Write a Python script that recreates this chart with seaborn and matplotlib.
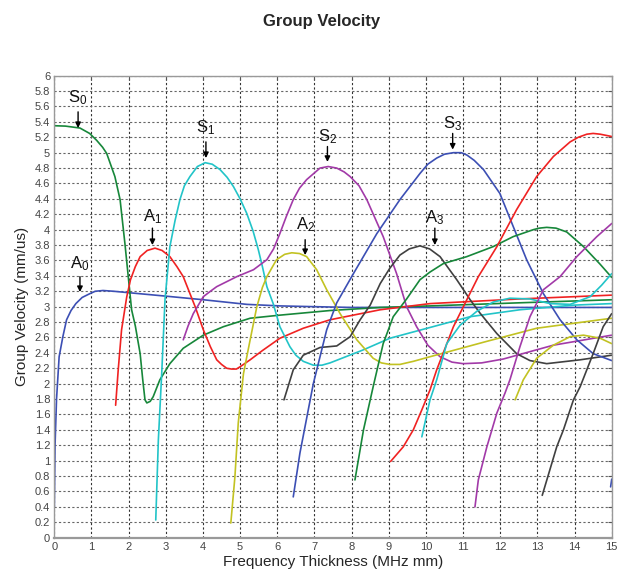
import numpy as np
import pandas as pd
import matplotlib
matplotlib.use('Agg')
import matplotlib.pyplot as plt
import seaborn as sns

sns.set_theme(style='white')
plt.rcParams['font.family'] = ['Liberation Sans', 'DejaVu Sans']
plt.rcParams['mathtext.default'] = 'regular'

# ---------------- data ----------------
A0_x = [0.0, 0.02, 0.06, 0.13, 0.23, 0.33, 0.45, 0.58, 0.75, 0.96, 1.1, 1.31, 1.6, 2.04, 2.93, 4.01, 5.18, 6.07, 7.0, 8.0, 10.0, 12.0, 15.0]
A0_y = [0.4, 1.2, 1.8, 2.35, 2.61, 2.83, 2.95, 3.04, 3.12, 3.17, 3.2, 3.21, 3.2, 3.18, 3.14, 3.09, 3.03, 3.01, 3.0, 2.99, 2.99, 2.99, 2.99]

S0_x = [0.0, 0.3, 0.69, 0.95, 1.14, 1.3, 1.41, 1.63, 1.77, 1.90, 1.99, 2.08, 2.18, 2.31, 2.38, 2.44, 2.49, 2.58, 2.66, 2.84, 3.11, 3.47, 4.01, 4.55, 5.27, 6.07, 7.42, 8.77, 10.11, 12.5, 15.0]
S0_y = [5.35, 5.345, 5.32, 5.25, 5.16, 5.07, 4.99, 4.69, 4.39, 3.82, 3.39, 2.96, 2.75, 2.39, 2.05, 1.79, 1.75, 1.77, 1.83, 2.05, 2.26, 2.46, 2.63, 2.74, 2.85, 2.89, 2.95, 2.99, 3.01, 3.05, 3.09]

A1_x = [1.65, 1.72, 1.81, 1.95, 2.05, 2.18, 2.31, 2.5, 2.71, 2.9, 3.11, 3.3, 3.47, 3.65, 3.79, 4.01, 4.2, 4.37, 4.5, 4.64, 4.77, 4.9, 5.0, 5.27, 5.6, 6.07, 6.7, 7.42, 8.77, 10.11, 12.5, 15.0]
A1_y = [1.72, 2.18, 2.70, 3.13, 3.35, 3.52, 3.65, 3.73, 3.76, 3.73, 3.65, 3.52, 3.39, 3.17, 3.0, 2.70, 2.48, 2.31, 2.25, 2.20, 2.19, 2.19, 2.22, 2.31, 2.43, 2.59, 2.72, 2.83, 2.96, 3.04, 3.10, 3.15]

S1_x = [2.73, 2.80, 2.89, 2.98, 3.11, 3.25, 3.38, 3.5, 3.65, 3.85, 4.06, 4.25, 4.46, 4.65, 4.82, 5.0, 5.18, 5.35, 5.49, 5.6, 5.72, 5.89, 6.07, 6.34, 6.5, 6.70, 6.97, 7.2, 7.42, 8.32, 9.03, 10.11, 11.19, 12.53, 13.97, 15.0]
S1_y = [0.23, 1.27, 2.13, 3.10, 3.78, 4.12, 4.39, 4.57, 4.69, 4.82, 4.87, 4.85, 4.78, 4.68, 4.56, 4.40, 4.21, 3.98, 3.74, 3.52, 3.26, 3.04, 2.74, 2.48, 2.37, 2.29, 2.24, 2.24, 2.27, 2.44, 2.59, 2.73, 2.87, 2.96, 3.02, 3.04]

S2_x = [3.47, 3.6, 3.74, 4.01, 4.2, 4.37, 4.91, 5.36, 5.72, 5.9, 6.07, 6.25, 6.43, 6.6, 6.79, 7.15, 7.37, 7.6, 7.8, 7.96, 8.2, 8.41, 8.85, 9.21, 9.48, 9.75, 10.05, 10.38, 10.7, 11.0, 11.5, 12.08, 13.43, 15.0]
S2_y = [2.57, 2.75, 2.91, 3.13, 3.2, 3.26, 3.39, 3.48, 3.61, 3.75, 3.95, 4.18, 4.39, 4.54, 4.65, 4.80, 4.82, 4.80, 4.75, 4.69, 4.57, 4.39, 3.91, 3.43, 3.0, 2.74, 2.5, 2.35, 2.28, 2.26, 2.27, 2.32, 2.50, 2.63]

A2_x = [4.75, 4.86, 4.95, 5.09, 5.27, 5.45, 5.6, 5.72, 5.98, 6.2, 6.39, 6.6, 6.79, 7.06, 7.33, 7.69, 8.14, 8.58, 8.8, 9.03, 9.3, 9.66, 10.11, 11.64, 12.98, 15.0]
A2_y = [0.19, 0.79, 1.49, 2.13, 2.57, 3.0, 3.25, 3.39, 3.61, 3.68, 3.70, 3.69, 3.65, 3.48, 3.22, 2.91, 2.57, 2.33, 2.27, 2.25, 2.25, 2.29, 2.35, 2.55, 2.72, 2.85]

A3_x = [6.18, 6.43, 6.70, 7.15, 7.60, 7.96, 8.23, 8.50, 8.77, 9.03, 9.30, 9.55, 9.84, 10.1, 10.38, 10.83, 11.19, 11.45, 11.91, 12.44, 12.8, 13.25, 14.15, 15.0]
A3_y = [1.79, 2.18, 2.37, 2.47, 2.49, 2.61, 2.83, 3.02, 3.30, 3.50, 3.67, 3.75, 3.79, 3.75, 3.65, 3.35, 3.09, 2.92, 2.65, 2.39, 2.3, 2.26, 2.31, 2.37]

S3_x = [6.43, 6.61, 6.79, 6.97, 7.15, 7.33, 7.60, 8.05, 8.68, 9.30, 9.84, 10.05, 10.29, 10.5, 10.74, 10.95, 11.10, 11.3, 11.55, 11.99, 12.35, 12.71, 13.16, 13.61, 14.06, 14.5, 15.0]
S3_y = [0.53, 1.10, 1.55, 2.00, 2.35, 2.70, 3.05, 3.43, 3.95, 4.39, 4.73, 4.85, 4.93, 4.98, 5.00, 5.0, 4.97, 4.9, 4.78, 4.47, 4.04, 3.61, 3.17, 2.83, 2.57, 2.39, 2.30]

S4_x = [8.09, 8.32, 8.58, 8.85, 9.12, 9.48, 9.84, 10.11, 10.47, 11.10, 11.81, 12.35, 12.89, 13.05, 13.25, 13.5, 13.79, 14.24, 14.69, 15.0]
S4_y = [0.75, 1.40, 1.96, 2.52, 2.87, 3.10, 3.35, 3.45, 3.56, 3.65, 3.78, 3.91, 4.00, 4.02, 4.03, 4.02, 3.97, 3.78, 3.55, 3.38]

A4_x = [9.05, 9.39, 9.66, 9.89, 10.11, 10.29, 10.74, 11.10, 11.41, 11.91, 12.44, 12.98, 13.43, 13.88, 14.1, 14.33, 14.5, 14.69, 15.0]
A4_y = [0.99, 1.18, 1.40, 1.66, 1.92, 2.18, 2.74, 3.09, 3.39, 3.78, 4.26, 4.69, 4.95, 5.14, 5.2, 5.24, 5.25, 5.24, 5.21]

A5_x = [9.89, 10.11, 10.29, 10.56, 10.92, 11.37, 11.81, 12.26, 12.8, 13.34, 13.88, 14.42, 14.73, 15.0]
A5_y = [1.31, 1.79, 2.05, 2.52, 2.76, 2.94, 3.06, 3.11, 3.10, 3.04, 3.03, 3.13, 3.28, 3.43]

S5_x = [11.32, 11.41, 11.64, 11.91, 12.13, 12.26, 12.53, 12.8, 13.16, 13.61, 14.06, 14.6, 15.0]
S5_y = [0.40, 0.75, 1.18, 1.62, 1.88, 2.05, 2.48, 2.87, 3.22, 3.39, 3.65, 3.91, 4.08]

A6_x = [12.4, 12.62, 12.98, 13.43, 13.88, 14.24, 14.69, 15.0]
A6_y = [1.79, 2.05, 2.33, 2.50, 2.61, 2.63, 2.59, 2.52]

A7_x = [13.13, 13.52, 13.7, 13.97, 14.15, 14.5, 14.77, 15.0]
A7_y = [0.55, 1.18, 1.40, 1.79, 1.96, 2.39, 2.74, 2.91]

S6_x = [14.97, 15.0]
S6_y = [0.66, 0.76]

mode_labels = ['S$_0$', 'A$_0$', 'A$_1$', 'S$_1$', 'A$_2$', 'S$_2$', 'S$_3$', 'A$_3$']
label_x = [0.64, 0.69, 2.64, 4.08, 6.75, 7.35, 10.72, 10.24]
label_text_y = [5.71, 3.56, 4.17, 5.32, 4.06, 5.21, 5.38, 4.15]
arrow_tail_y = [5.53, 3.39, 4.02, 5.14, 3.87, 5.08, 5.25, 4.02]
arrow_head_y = [5.32, 3.19, 3.80, 4.93, 3.67, 4.88, 5.04, 3.80]

x_ticks = list(range(0, 16))
y_ticks = [round(v * 0.2, 1) for v in range(0, 31)]

BLUE = '#3c4fb4'
GREEN = '#17873a'
RED = '#f02222'
CYAN = '#22c4c8'
MAGENTA = '#a23aa8'
OLIVE = '#c2c222'
GRAY = '#404040'

curves = [
    (A0_x, A0_y, BLUE), (S0_x, S0_y, GREEN), (A1_x, A1_y, RED), (S1_x, S1_y, CYAN),
    (S2_x, S2_y, MAGENTA), (A2_x, A2_y, OLIVE), (A3_x, A3_y, GRAY), (S3_x, S3_y, BLUE),
    (S4_x, S4_y, GREEN), (A4_x, A4_y, RED), (A5_x, A5_y, CYAN), (S5_x, S5_y, MAGENTA),
    (A6_x, A6_y, OLIVE), (A7_x, A7_y, GRAY), (S6_x, S6_y, BLUE),
]

fig = plt.figure(figsize=(6.3, 5.72), dpi=100)
ax = fig.add_axes([0.0862, 0.060, 0.8848, 0.8077])

for cx, cy, col in curves:
    df = pd.DataFrame({'f': cx, 'v': cy})
    sns.lineplot(data=df, x='f', y='v', sort=False, estimator=None, color=col,
                 linewidth=1.2, ax=ax)
for ln in ax.lines:
    ln.set_solid_joinstyle('round')

ax.set_xlim(0, 15)
ax.set_ylim(0, 6)
ax.set_xticks(x_ticks)
ax.set_xticklabels([str(t) for t in x_ticks])
ax.set_yticks(y_ticks)
ax.set_yticklabels([f'{t:g}' for t in y_ticks])

ax.grid(True, axis='x', color='#333333', linestyle=(0, (2, 2)), linewidth=0.8)
ax.grid(True, axis='y', color='#666666', linestyle=(0, (2, 2)), linewidth=0.8)
ax.set_axisbelow(True)

ax.tick_params(direction='in', top=True, right=True, length=3, width=0.8,
               labelsize=8, labelcolor='#444444', color='#555555', pad=3)
for side, sp in ax.spines.items():
    sp.set_color('#999999')
    sp.set_linewidth(1.0)
ax.spines['bottom'].set_linewidth(1.6)

for lab, lx, ty, tail, head in zip(mode_labels, label_x, label_text_y, arrow_tail_y, arrow_head_y):
    ax.annotate('', xy=(lx, head), xytext=(lx, tail),
                arrowprops=dict(arrowstyle='-|>', color='black', lw=1.0, mutation_scale=8,
                                shrinkA=0, shrinkB=0))
    ax.text(lx, ty, lab, ha='center', va='center', fontsize=12, color='#111111')

ax.set_xlabel('Frequency Thickness (MHz mm)', fontsize=11, labelpad=2)
ax.set_ylabel('Group Velocity (mm/us)', fontsize=11, labelpad=4)
fig.text(0.51, 0.962, 'Group Velocity', fontsize=12, fontweight='bold', ha='center', va='center')

fig.savefig('out.png', dpi=100, facecolor='white')
